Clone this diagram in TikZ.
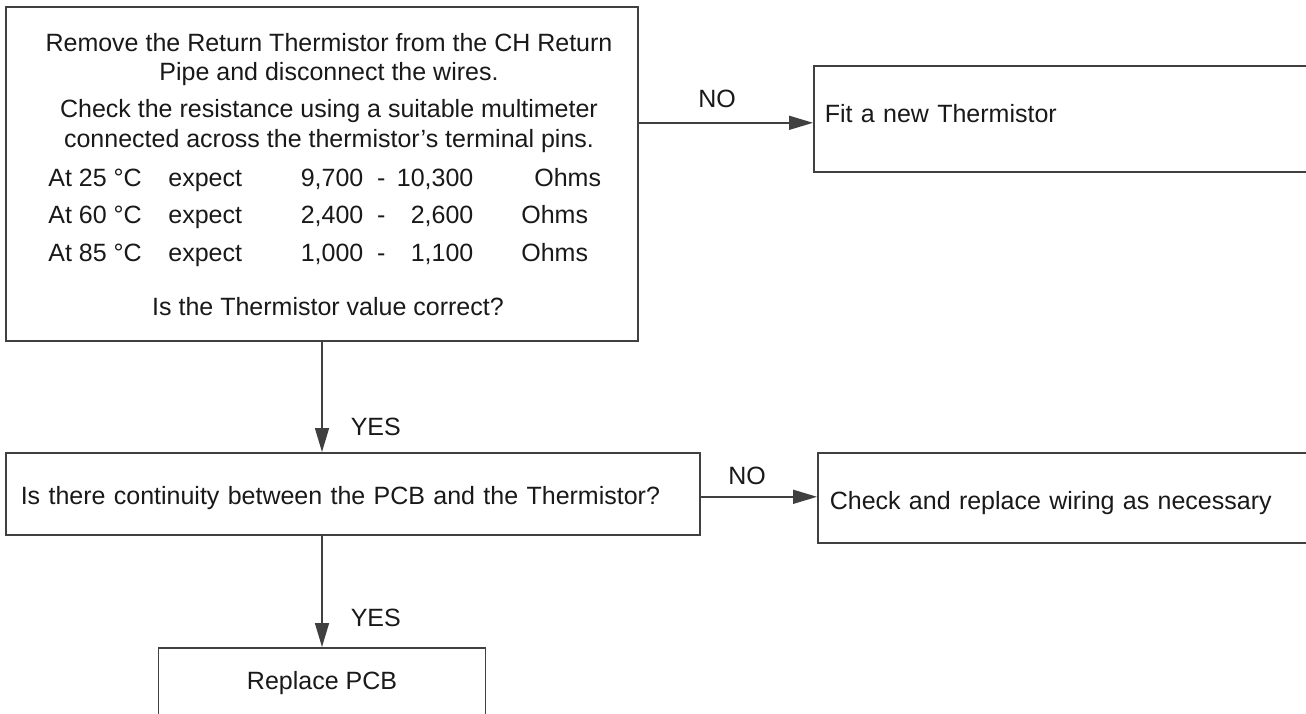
\documentclass[tikz,border=0pt]{standalone}
\usepackage{fontspec}
\setmainfont{Liberation Sans}
\usetikzlibrary{arrows.meta}

% one line of the resistance table
\newcommand{\ohmrow}[4]{\makebox[60pt][l]{At #1 °C}\makebox[97.5pt][l]{expect\hfill #2}\makebox[18pt]{-}\makebox[37pt][r]{#3}\hspace{#4}Ohms}

\begin{document}
\begin{tikzpicture}[x=0.5pt, y=-0.5pt,
  every node/.style={font=\fontsize{12.5pt}{15pt}\selectfont, text=black!90, inner sep=0pt},
  box/.style={draw=black!75, line width=0.8pt},
  flow/.style={draw=black!75, line width=0.8pt, -{Triangle[length=12pt,width=7pt]}},
  line/.style={anchor=base}]
  \path[use as bounding box, fill=white] (0,0) rectangle (1306,713);
  \clip (0,0) rectangle (1306,713);
  % Thermistor check
  \node[box, minimum width=316pt, minimum height=167pt] (test) at (322,174) {};
  \node[line] (t1) at (329,51) {Remove the Return Thermistor from the CH Return};
  \node[line] (t2) at (329,80) {Pipe and disconnect the wires.};
  \node[line] (t3) at (329,117) {Check the resistance using a suitable multimeter};
  \node[line] (t4) at (329,147) {connected across the thermistor’s terminal pins.};
  \node[line, anchor=base west] (r25) at (48,186) {\ohmrow{25}{9,700}{10,300}{30.5pt}};
  \node[line, anchor=base west] (r60) at (48,223) {\ohmrow{60}{2,400}{2,600}{24pt}};
  \node[line, anchor=base west] (r85) at (48,261) {\ohmrow{85}{1,000}{1,100}{24pt}};
  \node[line] (q1) at (328,315) {Is the Thermistor value correct?};
  % Outcomes
  \node[box, anchor=north west, text width=249pt, inner xsep=5.5pt,
    text height=28.5pt, text depth=24.5pt] (fitnew) at (813,65) {Fit a new Thermistor};
  \node[box, anchor=north west, text width=332pt, inner xsep=7.5pt,
    text height=26pt, text depth=15pt] (cont) at (5,452) {Is there continuity between the PCB and the Thermistor?};
  \node[box, anchor=north west, text width=246pt, inner xsep=6pt,
    text height=28.5pt, text depth=16.5pt] (wiring) at (817,452) {Check and replace wiring as necessary};
  \node[box, anchor=north, minimum width=163.5pt,
    text height=21pt, text depth=30pt] (pcb) at (322,647) {Replace PCB};
  % Connectors
  \coordinate (noin) at ([yshift=-2pt]fitnew.west);
  \coordinate (noout) at ([yshift=-1.5pt]cont.east);
  \draw[flow] (test.east |- noin) -- (noin) node[pos=0.45, above=7pt] (no1) {NO};
  \draw[flow] (test.south) -- (test.south |- cont.north) node[pos=0.77, right=14pt] (yes1) {YES};
  \draw[flow] (noout) -- (noout -| wiring.west) node[pos=0.4, above=5.5pt] (no2) {NO};
  \draw[flow] (test.south |- cont.south) -- (pcb.north) node[pos=0.74, right=14pt] (yes2) {YES};
\end{tikzpicture}
\end{document}
